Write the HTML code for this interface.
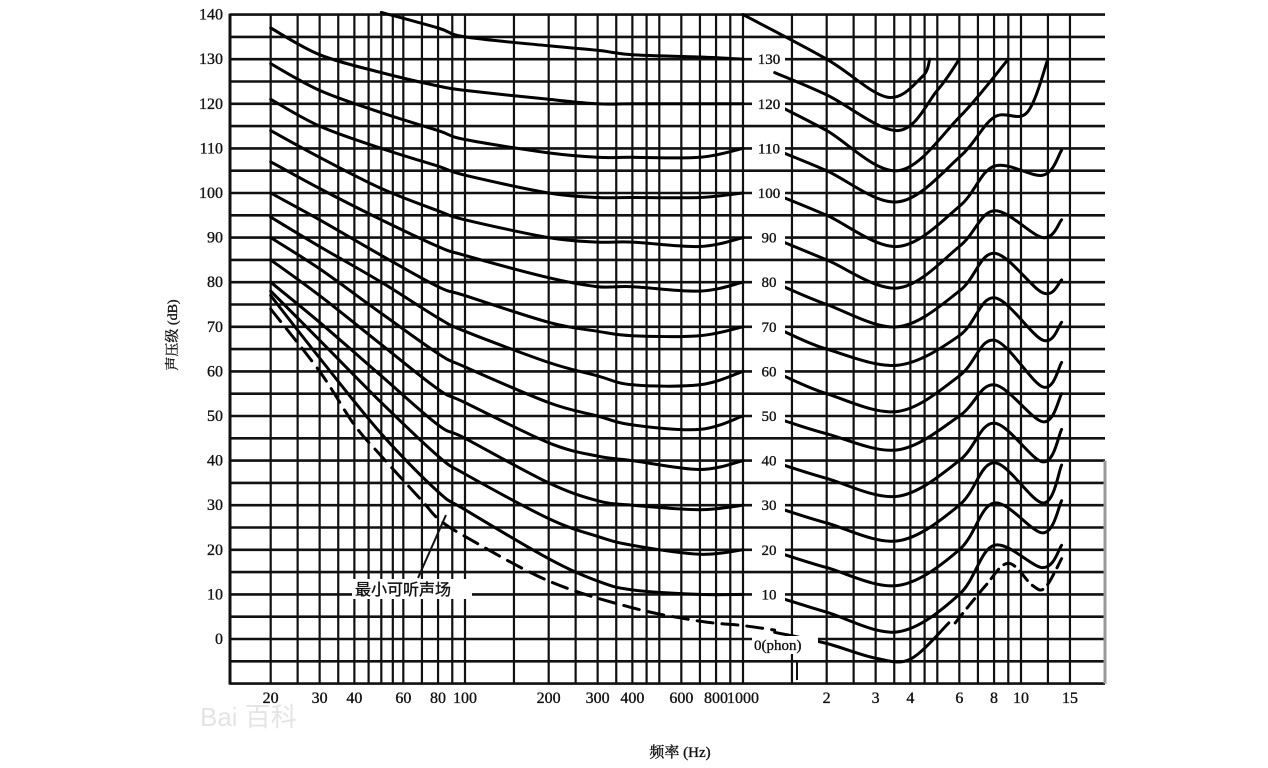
<!DOCTYPE html>
<html><head><meta charset="utf-8">
<style>
html,body{margin:0;padding:0;background:#fff;}
svg{display:block;}
text{font-family:"Liberation Serif","Noto Serif CJK SC",serif;fill:#111;stroke:#111;stroke-width:0.35;}
</style></head>
<body>
<svg id="chart" width="1268" height="768" viewBox="0 0 1268 768" xmlns="http://www.w3.org/2000/svg">
<g id="grid"></g>
<g id="curves"></g>
<g id="labels"></g>
<text x="200" y="726" font-size="26" style="fill:#e4e4e4;stroke:none;font-family:'Liberation Sans','Noto Sans CJK SC',sans-serif">Bai 百科</text>
<text transform="translate(177,335) rotate(-90)" text-anchor="middle" font-size="14">声压级 (dB)</text>
<text x="680" y="757" text-anchor="middle" font-size="15">频率 (Hz)</text>
<g>
<rect x="352" y="579" width="120" height="20" fill="#fff"/>
<text x="355" y="595" font-size="16" style="font-family:'Liberation Sans','Noto Sans CJK SC',sans-serif">最小可听声场</text>
<line x1="418" y1="578" x2="446" y2="515" stroke="#111" stroke-width="2"/>
</g>
<g>
<rect x="752" y="636" width="66" height="18" fill="#fff"/>
<text x="754" y="650" font-size="15">0(phon)</text>
<line x1="797" y1="662" x2="797" y2="680" stroke="#111" stroke-width="2"/>
</g>
</svg>
<script>
// ---- data ----
const yTicks=[140,130,120,110,100,90,80,70,60,50,40,30,20,10,0];
const xTickValues=[20,30,40,60,80,100,200,300,400,600,800,1000,2000,3000,4000,6000,8000,10000,15000];
const xTickLabels=["20","30","40","60","80","100","200","300","400","600","800","1000","2","3","4","6","8","10","15"];
const gridFreqs=[20,25,30,35,40,45,50,55,60,70,80,90,100,150,200,250,300,350,400,450,500,600,700,800,900,1000,1500,2000,2500,3000,3500,4000,4500,5000,6000,7000,8000,9000,10000,12500,15000];
const phonLevels=[130,120,110,100,90,80,70,60,50,40,30,20,10];
const leftFreqs=[20,30,50,80,100,200,300,400,700,1000];
const left130=[null,null,140.5,137,135,133,132,131,130.5,130];
const left120=[137,131,127,124,123,121,120,120,120,120];
const left110=[129,123,118,114,112,109,108,108,108,110];
const left100=[121,115,110,106,104,100,99,99,99,100];
const left90=[114,108,101,96,94,90,89,89,88,90];
const left80=[107,101,94,88,86,81,79,79,78,80];
const left70=[100,94,86,79,77,71,69,68,68,70];
const left60=[94.6,88,80,72,69,62,59,57,57,60];
const left50=[90,83,73,64,61,53,50,48,47,50];
const left40=[85,77,66,56,53,44,41,40,38,40];
const left30=[80,71,59,48,45,35,31,30,29,30];
const left20=[78,67,53,41,37,27,23,21,19,20];
const left10=[77,63,46,33,29,18,13,11,10,10];
const rightFreqs=[1400,2000,3600,6000,8000,12000,14000];
const right100=[99,95,88,97,106,104,109.6];
const right90=[89,85,78.7,88,96,90,94];
const right80=[79,75,70,78,86.5,77.6,80.5];
const right70=[69,65,61.4,68,76.5,67,71];
const right60=[59,55,51,59,67,56.5,62];
const right50=[49,46,42.4,50,57,48.7,55];
const right40=[39,36,32,40,48.4,39.7,47];
const right30=[29,26,22,30,39.5,30.5,39];
const right20=[19,16,12,20,30.5,23.8,31];
const right10=[9,6,1.6,10,21,16,21];
const right110Freqs=[1400,2000,3600,6000,8000,10500,12500];
const right110=[109,105,98,108,117,118,130];
const right120Freqs=[1400,2000,3600,6000,9000];
const right120=[119,114,105,117,130];
const right130Freqs=[1300,2000,3600,5000,6000];
const right130=[127,122,114,123,130];
const right140Freqs=[1000,2000,3300,4400,4700];
const right140=[140,130,121.5,126,130];
const zeroPhonFreqs=[1300,2000,3000,4000,5500];
const zeroPhon=[1.5,-1,-4.3,-4.5,3.6];
const mafLeftFreqs=[20,30,40,50,70,80,100,200,400,700,1000,1300];
const mafLeft=[74,60,48,41,31,27,23,13,7,4,3,2];
const mafRightFreqs=[5800,7400,9000,11000,12200,14000];
const mafRight=[3.6,11.7,17,12,11.5,18];

// ---- axes ----
const X0=230,X1=1105;
function xs(f){return 465+278*Math.log10(f/100);}
function ys(db){return 639-4.46*db;}
const NS="http://www.w3.org/2000/svg";
function mk(tag,attrs,parent){const e=document.createElementNS(NS,tag);for(const k in attrs)e.setAttribute(k,attrs[k]);parent.appendChild(e);return e;}

const grid=document.getElementById('grid');
for(let db=-10;db<=140;db+=5){
  const l=mk('line',{x1:X0,x2:X1,y1:ys(db),y2:ys(db),stroke:'#111','stroke-width':2.6},grid);
  
  
}
gridFreqs.forEach(f=>{
  const l=mk('line',{x1:xs(f),x2:xs(f),y1:ys(140),y2:ys(-10),stroke:'#111','stroke-width':2.2},grid);
  
  
});
[X0].forEach(x=>{
  const l=mk('line',{x1:x,x2:x,y1:ys(140)-1,y2:ys(-10)+1,stroke:'#111','stroke-width':3},grid);
  
  
});
const rb=mk('line',{x1:X1,x2:X1,y1:ys(40),y2:ys(-10),stroke:'#999','stroke-width':3},grid);



const labels=document.getElementById('labels');
yTicks.forEach(v=>{
  const t=mk('text',{x:223,y:ys(v)+5,'text-anchor':'end','font-size':16},labels);
  t.textContent=String(v);
  
  
});
xTickValues.forEach((f,i)=>{
  const t=mk('text',{x:xs(f),y:703,'text-anchor':'middle','font-size':16},labels);
  t.textContent=xTickLabels[i];
  
  
});

// ---- curves ----
const curves=document.getElementById('curves');
function pathFrom(freqs,vals){
  const pts=[];
  freqs.forEach((f,i)=>{if(vals[i]!==null)pts.push([xs(f),ys(vals[i])]);});
  let d='M'+pts[0][0].toFixed(1)+','+pts[0][1].toFixed(1);
  for(let i=0;i<pts.length-1;i++){
    const p0=pts[Math.max(0,i-1)],p1=pts[i],p2=pts[i+1],p3=pts[Math.min(pts.length-1,i+2)];
    const c1=[p1[0]+(p2[0]-p0[0])/6,p1[1]+(p2[1]-p0[1])/6];
    const c2=[p2[0]-(p3[0]-p1[0])/6,p2[1]-(p3[1]-p1[1])/6];
    d+=' C'+c1[0].toFixed(1)+','+c1[1].toFixed(1)+' '+c2[0].toFixed(1)+','+c2[1].toFixed(1)+' '+p2[0].toFixed(1)+','+p2[1].toFixed(1);
  }
  return d;
}
function drawCurve(freqs,vals,name,dash){
  const p=mk('path',{d:pathFrom(freqs,vals),fill:'none',stroke:'#000','stroke-width':3,'stroke-linecap':'round'},curves);
  if(dash)p.setAttribute('stroke-dasharray',dash);
  
  
}
const leftSets=[left130,left120,left110,left100,left90,left80,left70,left60,left50,left40,left30,left20,left10];
leftSets.forEach((v,i)=>drawCurve(leftFreqs,v,'phon-'+phonLevels[i]+'-low-curve'));
const rightSets=[[right130Freqs,right130],[right120Freqs,right120],[right110Freqs,right110],[rightFreqs,right100],[rightFreqs,right90],[rightFreqs,right80],[rightFreqs,right70],[rightFreqs,right60],[rightFreqs,right50],[rightFreqs,right40],[rightFreqs,right30],[rightFreqs,right20],[rightFreqs,right10]];
rightSets.forEach((s,i)=>drawCurve(s[0],s[1],'phon-'+phonLevels[i]+'-high-curve'));
drawCurve(right140Freqs,right140,'phon-140-high-curve');
drawCurve(zeroPhonFreqs,zeroPhon,'phon-0-curve');
drawCurve(mafLeftFreqs,mafLeft,'min-audible-field-low','16 9');
drawCurve(mafRightFreqs,mafRight,'min-audible-field-high','12 7');

// phon labels
phonLevels.forEach(p=>{
  const y=ys(p);
  const r=mk('rect',{x:752,y:y-8,width:33,height:16,fill:'#fff'},labels);
  
  
  const t=mk('text',{x:769,y:y+5,'text-anchor':'middle','font-size':15},labels);
  t.textContent=String(p);
  
  
});
</script>
</body></html>
